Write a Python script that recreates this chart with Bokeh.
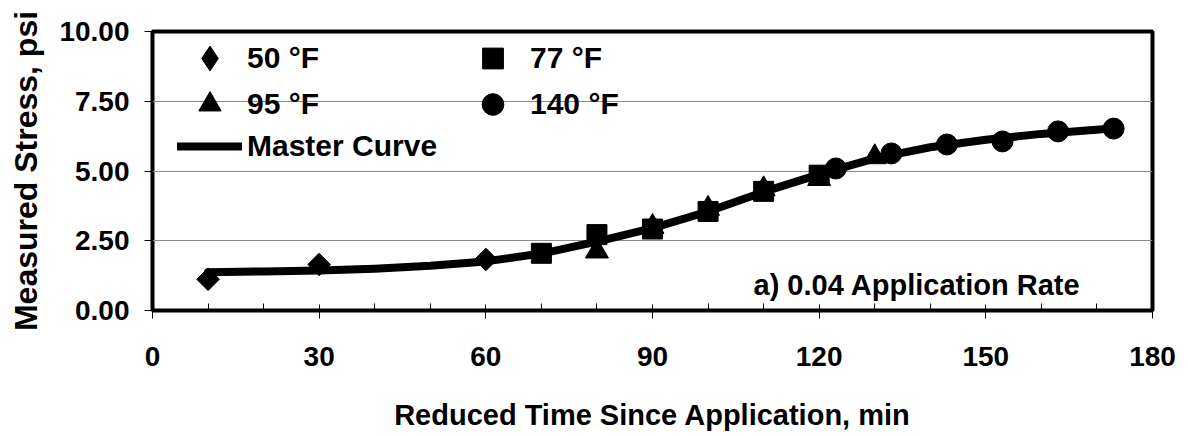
from bokeh.plotting import figure
from bokeh.models import (FixedTicker, PrintfTickFormatter, Legend, LegendItem,
                          Label, Range1d)
from bokeh.embed import file_html
from bokeh.resources import INLINE
import math

# ---- data ----
time_50 = [10, 30, 60]
stress_50 = [1.12, 1.65, 1.83]

time_77 = [70, 80, 90, 100, 110, 120]
stress_77 = [2.05, 2.72, 2.92, 3.55, 4.27, 4.85]

time_95 = [80, 90, 100, 110, 120, 130]
stress_95 = [2.12, 3.0, 3.65, 4.35, 4.72, 5.5]

time_140 = [123, 133, 143, 153, 163, 173]
stress_140 = [5.09, 5.63, 5.95, 6.06, 6.42, 6.52]

master_time = [10, 20, 30, 40, 50, 60, 70, 80, 90, 100, 110, 120, 130, 140, 150, 160, 171]
master_stress = [1.37, 1.40, 1.43, 1.50, 1.60, 1.76, 2.04, 2.47, 2.95, 3.55, 4.25,
                 4.88, 5.45, 5.85, 6.12, 6.33, 6.50]

x_ticks = [0, 30, 60, 90, 120, 150, 180]
x_minor = [10, 20, 40, 50, 70, 80, 100, 110, 130, 140, 160, 170]
y_ticks = [0, 2.5, 5, 7.5, 10]

FONT = "Liberation Sans"

p = figure(width=1180, height=433, output_backend="svg", toolbar_location=None,
           x_range=Range1d(0, 180), y_range=Range1d(0, 10),
           min_border_left=152, min_border_right=28, min_border_top=31,
           min_border_bottom=100)

p.outline_line_color = "black"
p.outline_line_width = 4
p.background_fill_color = "white"
p.border_fill_color = "white"

p.xgrid.visible = False
p.ygrid.grid_line_color = "#8a8a8a"
p.ygrid.grid_line_width = 1

# x axis
xa = p.xaxis[0]
xa.ticker = FixedTicker(ticks=x_ticks, minor_ticks=x_minor)
xa.axis_line_color = None
xa.major_tick_in = 6
xa.major_tick_out = 8
xa.minor_tick_in = 7
xa.minor_tick_out = 0
xa.major_tick_line_color = "black"
xa.minor_tick_line_color = "black"
xa.major_label_text_font = FONT
xa.major_label_text_font_style = "bold"
xa.major_label_text_font_size = "28px"
xa.major_label_text_color = "black"
xa.major_label_standoff = 28
xa.axis_label = "Reduced Time Since Application, min"
xa.axis_label_text_font = FONT
xa.axis_label_text_font_style = "bold"
xa.axis_label_text_font_size = "29px"
xa.axis_label_text_color = "black"
xa.axis_label_standoff = 30

# y axis
ya = p.yaxis[0]
ya.ticker = FixedTicker(ticks=y_ticks)
ya.formatter = PrintfTickFormatter(format="%.2f")
ya.axis_line_color = None
ya.major_tick_in = 0
ya.major_tick_out = 8
ya.minor_tick_line_color = None
ya.major_tick_line_color = "black"
ya.major_label_text_font = FONT
ya.major_label_text_font_style = "bold"
ya.major_label_text_font_size = "28px"
ya.major_label_text_color = "black"
ya.major_label_standoff = 15
ya.axis_label = "Measured Stress, psi"
ya.axis_label_text_font = FONT
ya.axis_label_text_font_style = "bold"
ya.axis_label_text_font_size = "32px"
ya.axis_label_text_color = "black"
ya.axis_label_standoff = 12

# glyphs
r_line = p.line(master_time, master_stress, line_color="black", line_width=8,
                line_join="round", line_cap="round")
# diamond-marker twin of the 50 °F series (hidden under the rotated squares),
# used to draw the legend key as a diamond
r50_key = p.scatter(time_50, stress_50, marker="diamond", size=14,
                    fill_color="black", line_color="black")
r50 = p.scatter(time_50, stress_50, marker="square", angle=math.pi / 4, size=16,
                fill_color="black", line_color="black")
r77 = p.scatter(time_77, stress_77, marker="square", size=20,
                fill_color="black", line_color="black")
r95 = p.scatter(time_95, stress_95, marker="triangle", size=23,
                fill_color="black", line_color="black")
r140 = p.scatter(time_140, stress_140, marker="circle", size=21,
                 fill_color="black", line_color="black")


def make_legend(item, loc, gh):
    lg = Legend(items=[item], location=loc, orientation="horizontal",
                glyph_width=65, glyph_height=gh, label_height=gh,
                label_standoff=5, spacing=0, padding=0, margin=0,
                border_line_color=None, background_fill_alpha=0,
                label_text_font=FONT, label_text_font_style="bold",
                label_text_font_size="30px", label_text_color="black")
    return lg


# frame-relative (px from frame's left / bottom) row centres
col1_x, col2_x = 25, 308
row_c = [252, 206, 164]

legends = [
    make_legend(LegendItem(label="50 °F", renderers=[r50_key], index=0), (col1_x, row_c[0] - 31), 62),
    make_legend(LegendItem(label="77 °F", renderers=[r77], index=0), (col2_x, row_c[0] - 26), 52),
    make_legend(LegendItem(label="95 °F", renderers=[r95], index=0), (col1_x, row_c[1] - 28), 56),
    make_legend(LegendItem(label="140 °F", renderers=[r140], index=0), (col2_x, row_c[1] - 27), 54),
    make_legend(LegendItem(label="Master Curve", renderers=[r_line]), (col1_x, row_c[2] - 20), 40),
]
for lg in legends:
    p.add_layout(lg)

note = Label(x=601, y=26, x_units="screen", y_units="screen",
             text="a) 0.04 Application Rate", text_font=FONT,
             text_font_style="bold", text_font_size="29px", text_color="black",
             text_baseline="alphabetic")
p.add_layout(note)

open("out.html", "w").write(file_html(p, INLINE))
